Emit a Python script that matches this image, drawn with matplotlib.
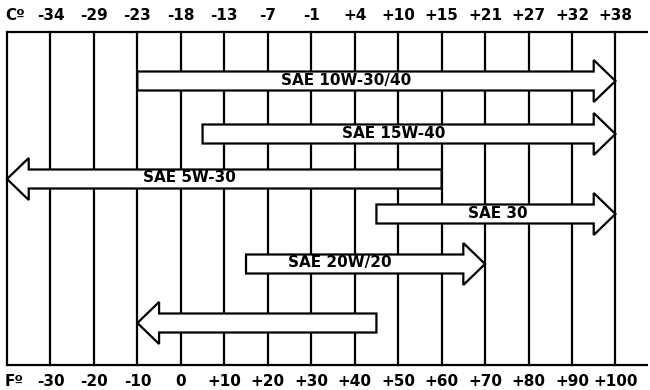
import matplotlib
matplotlib.use("Agg")
import matplotlib.pyplot as plt
from matplotlib.patches import Polygon

plt.rcParams['font.family'] = ['DejaVu Sans']

# temperature scale (grid lines are at the fahrenheit values)
fahrenheit = [-30, -20, -10, 0, 10, 20, 30, 40, 50, 60, 70, 80, 90, 100]
f_labels = ['-30', '-20', '-10', '0', '+10', '+20', '+30', '+40', '+50',
            '+60', '+70', '+80', '+90', '+100']
c_labels = ['-34', '-29', '-23', '-18', '-13', '-7', '-1', '+4', '+10',
            '+15', '+21', '+27', '+32', '+38']

# oil grades: arrow goes from range_start (tail) to range_end (tip), in F
oil_grades = ['SAE 10W-30/40', 'SAE 15W-40', 'SAE 5W-30', 'SAE 30', 'SAE 20W/20', '']
range_start = [-10, 5, 60, 45, 15, 45]
range_end = [100, 100, -40, 100, 70, -10]
label_at = [38, 49, 2, 73, 36.5, None]

# layout, in pixels
row_y = [81, 134, 179, 214, 264, 323]
top, bottom = 32, 365
px_per_f = 4.346
shaft = 9.5
head = 21
head_len = 5


def arrow_points(x_tail, x_tip, y):
    d = 1 if x_tip > x_tail else -1
    xb = x_tip - d * head_len
    return [(x_tail, y - shaft), (xb, y - shaft), (xb, y - head), (x_tip, y),
            (xb, y + head), (xb, y + shaft), (x_tail, y + shaft)]


fig = plt.figure(figsize=(6.5, 3.9), dpi=100)
ax = fig.add_axes([0, 0, 1, 1])
x0 = -40 - 7 / px_per_f
ax.set_xlim(x0, x0 + 650 / px_per_f)
ax.set_ylim(390, 0)
ax.axis('off')

lw = 1.6
right = x0 + 648 / px_per_f
ax.plot([-40, right], [top, top], color='black', lw=lw, solid_capstyle='butt')
ax.plot([-40, right], [bottom, bottom], color='black', lw=lw, solid_capstyle='butt')
ax.plot([-40, -40], [top, bottom], color='black', lw=lw)
for f in fahrenheit:
    ax.plot([f, f], [top, bottom], color='black', lw=lw)

for name, a, b, pos, y in zip(oil_grades, range_start, range_end, label_at, row_y):
    poly = Polygon(arrow_points(a, b, y), closed=True, facecolor='white',
                   edgecolor='black', lw=1.6, joinstyle='miter', zorder=3)
    ax.add_patch(poly)
    if name:
        ax.text(pos, y - 1, name, ha='center', va='center', fontsize=11,
                fontweight='bold', zorder=4)

ax.text(-40.5, 15, 'Cº', ha='left', va='center', fontsize=11, fontweight='bold')
ax.text(-40.5, 381, 'Fº', ha='left', va='center', fontsize=11, fontweight='bold')
for f, c, lab in zip(fahrenheit, c_labels, f_labels):
    ax.text(f, 15, c, ha='center', va='center', fontsize=11, fontweight='bold')
    ax.text(f, 381, lab, ha='center', va='center', fontsize=11, fontweight='bold')

fig.savefig('out.png', dpi=100)
